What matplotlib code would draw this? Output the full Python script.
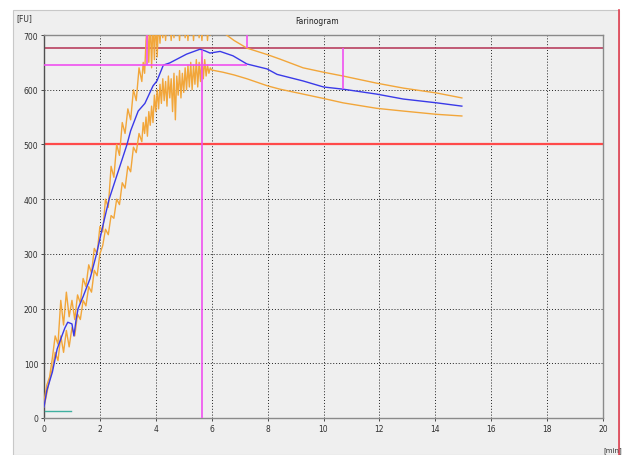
import numpy as np
import matplotlib.pyplot as plt
from matplotlib.patches import Rectangle
from matplotlib.lines import Line2D

# Mittelkurve (blau): Zeit in min, Konsistenz in FU
mitte_t = [0.0, 0.1, 0.3, 0.47, 0.64, 0.75, 0.85, 1.0, 1.07, 1.15, 1.22, 1.4, 1.65, 1.88, 2.1,
           2.33, 2.65, 2.97, 3.1, 3.37, 3.61, 3.9, 4.04, 4.27, 4.5, 5.1, 5.58, 5.76, 5.94, 6.3,
           6.76, 7.26, 7.98, 8.34, 9.27, 10.0, 10.7, 11.9, 12.85, 14.05, 14.95]
mitte_fu = [20, 50, 84, 126, 150, 165, 175, 172, 150, 180, 200, 222, 255, 300, 350,
            400, 450, 500, 525, 561, 575, 607, 616, 645, 649, 665, 674, 671, 667, 670,
            662, 647, 638, 628, 616, 605, 601, 592, 583, 576, 570]

# Bandbreite oben / unten (orange), verrauschter Teil bis 6 min
band_t = [0.0, 0.1, 0.2, 0.3, 0.4, 0.5, 0.6, 0.7, 0.8, 0.9,
          1.0, 1.1, 1.2, 1.3, 1.4, 1.5, 1.6, 1.7, 1.8, 1.9,
          2.0, 2.1, 2.2, 2.3, 2.4, 2.5, 2.6, 2.7, 2.8, 2.9,
          3.0, 3.1, 3.2, 3.3, 3.4,
          3.5, 3.55, 3.6, 3.65, 3.7, 3.75, 3.8, 3.85, 3.9, 3.95,
          4.0, 4.05, 4.1, 4.15, 4.2, 4.25, 4.3, 4.35, 4.4, 4.45,
          4.5, 4.55, 4.6, 4.65, 4.7, 4.75, 4.8, 4.85, 4.9, 4.95,
          5.0, 5.05, 5.1, 5.15, 5.2, 5.25, 5.3, 5.35, 5.4, 5.45,
          5.5, 5.55, 5.6, 5.65, 5.7, 5.75, 5.8, 5.85, 5.9, 5.95, 6.0]
oben_rausch = [30, 60, 75, 110, 150, 135, 215, 170, 230, 185,
               215, 180, 225, 210, 255, 240, 280, 265, 310, 300,
               350, 340, 400, 385, 460, 440, 500, 480, 540, 520,
               565, 545, 600, 580, 640,
               615, 650, 630, 690, 720, 650, 730, 640, 730, 655,
               730, 660, 730, 685, 730, 695, 730, 690, 730, 700,
               730, 690, 730, 695, 730, 700, 730, 690, 730, 700,
               730, 695, 730, 690, 730, 700, 730, 690, 730, 700,
               730, 695, 730, 690, 730, 700, 730, 690, 725, 700, 712]
unten_rausch = [20, 45, 70, 90, 120, 105, 150, 120, 160, 130,
                165, 150, 190, 180, 215, 205, 240, 230, 270, 260,
                300, 315, 345, 335, 370, 365, 400, 390, 430, 420,
                460, 450, 495, 485, 520,
                505, 540, 520, 550, 515, 560, 535, 570, 540, 590,
                560, 600, 565, 610, 575, 620, 580, 615, 570, 625,
                585, 620, 560, 630, 545, 625, 590, 635, 585, 630,
                595, 640, 600, 645, 605, 650, 600, 645, 610, 655,
                605, 650, 615, 660, 620, 655, 625, 645, 630, 640, 636]

# glatter Teil nach der Teigentwicklung
glatt_t = [6.4, 6.8, 7.26, 8.0, 8.44, 9.27, 10.0, 10.7, 11.9, 12.85, 14.05, 14.95]
oben_glatt = [705, 690, 676, 664, 656, 640, 632, 625, 612, 603, 594, 585]
unten_glatt = [632, 627, 620, 607, 601, 592, 584, 576, 566, 561, 555, 552]

# Kennwerte (Linien im Diagramm)
linie_500 = 500
linie_max = 676
niveau_ankunft = 645
t_ankunft = 3.67
t_peak = 5.66
fu_peak = 672
t_abfahrt = 7.26
t_10min = 10.7
fu_10min = 601

# Kleine Basislinie unten links
basis_t = [0.05, 0.95]
basis_fu = [12, 12]

x_ticks = [0, 2, 4, 6, 8, 10, 12, 14, 16, 18, 20]
y_ticks = [0, 100, 200, 300, 400, 500, 600, 700]

fig = plt.figure(figsize=(6.24, 4.56), dpi=100)
fig.patch.set_facecolor('white')

# grauer Hintergrund wie im Programmfenster
fig.patches.append(Rectangle((13 / 624, 0), (619 - 13) / 624, (456 - 11) / 456,
                             transform=fig.transFigure, facecolor='#efefef',
                             edgecolor='#c8c8c8', linewidth=0.8, zorder=-10))
fig.lines.append(Line2D([619 / 624, 619 / 624], [0, 1 - 11 / 456], transform=fig.transFigure,
                        color='#e04050', linewidth=1.2, zorder=-9))

ax = fig.add_axes([44 / 624, 1 - 419 / 456, (603 - 44) / 624, (419 - 36) / 456])
ax.set_facecolor('#efefef')

# Gitter
for xv in x_ticks[1:-1]:
    ax.axvline(xv, color='#202020', linestyle=(0, (1, 2)), linewidth=0.7, zorder=1)
for yv in y_ticks[1:-1]:
    ax.axhline(yv, color='#202020', linestyle=(0, (1, 2)), linewidth=0.7, zorder=1)

# Grenzlinien
ax.axhline(linie_500, color='#ff4a4a', linewidth=1.6, zorder=2)
ax.axhline(linie_max, color='#b84060', linewidth=1.2, zorder=2)

# Kurven
band_oben_t = band_t + glatt_t
band_oben = oben_rausch + oben_glatt
band_unten = unten_rausch + unten_glatt
ax.plot(band_oben_t, band_oben, color='#f2a63a', linewidth=1.0, zorder=3)
ax.plot(band_oben_t, band_unten, color='#f2a63a', linewidth=1.0, zorder=3)
ax.plot(mitte_t, mitte_fu, color='#3a3ae8', linewidth=1.0, zorder=4)
ax.plot(basis_t, basis_fu, color='#40b0a0', linewidth=1.0, zorder=4)

# Markierungen (magenta)
magenta = '#f050f0'
ax.hlines(niveau_ankunft, 0, t_abfahrt, color=magenta, linewidth=1.2, zorder=5)
ax.vlines(t_ankunft, niveau_ankunft, 700, color=magenta, linewidth=1.2, zorder=5)
ax.vlines(t_abfahrt, linie_max, 700, color=magenta, linewidth=1.2, zorder=5)
ax.vlines(t_peak, 0, fu_peak, color=magenta, linewidth=1.2, zorder=5)
ax.vlines(t_10min, fu_10min, linie_max, color=magenta, linewidth=1.2, zorder=5)

ax.set_xlim(0, 20)
ax.set_ylim(0, 700)
ax.set_xticks(x_ticks)
ax.set_yticks(y_ticks)
ax.tick_params(labelsize=5.5, length=2, width=0.6, colors='#303030', pad=2)
for sp in ax.spines.values():
    sp.set_color('#8a8a8a')
    sp.set_linewidth(1.0)
ax.spines['left'].set_color('#505050')

fig.text(317 / 624, 1 - 22 / 456, 'Farinogram', fontsize=5.5, ha='center', va='center', color='#202020')
fig.text(16 / 624, 1 - 19 / 456, '[FU]', fontsize=5.5, ha='left', va='center', color='#303030')
fig.text(613 / 624, 1 - 451 / 456, '[min]', fontsize=5, ha='center', va='center', color='#303030')

fig.savefig('out.png', dpi=100)
